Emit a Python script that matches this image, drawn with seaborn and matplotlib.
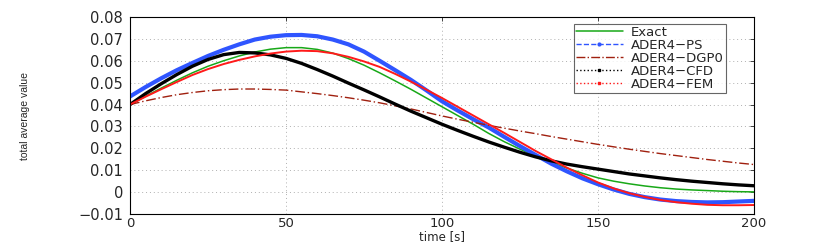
import numpy as np
import matplotlib
matplotlib.use("Agg")
import matplotlib.pyplot as plt
import seaborn as sns
from matplotlib.lines import Line2D

# values (every 5 s)
time = list(range(0, 205, 5))
exact = [0.0400, 0.0438, 0.0475, 0.0511, 0.0545, 0.0575, 0.0600, 0.0622, 0.0640, 0.0653,
         0.0660, 0.0660, 0.0652, 0.0635, 0.0610, 0.0580, 0.0545, 0.0508, 0.0470, 0.0430,
         0.0390, 0.0350, 0.0310, 0.0268, 0.0230, 0.0196, 0.0165, 0.0136, 0.0110, 0.0086,
         0.0065, 0.0050, 0.0038, 0.0028, 0.0020, 0.0014, 0.0010, 0.0007, 0.0004, 0.0002,
         0.0001]
ader_ps = [0.0437, 0.0480, 0.0520, 0.0557, 0.0590, 0.0622, 0.0650, 0.0675, 0.0697, 0.0710,
           0.0717, 0.0718, 0.0712, 0.0697, 0.0675, 0.0642, 0.0600, 0.0557, 0.0513, 0.0465,
           0.0415, 0.0373, 0.0333, 0.0295, 0.0252, 0.0210, 0.0170, 0.0130, 0.0095, 0.0063,
           0.0036, 0.0012, -0.0008, -0.0023, -0.0034, -0.0041, -0.0045, -0.0047, -0.0046, -0.0043,
           -0.0040]
ader_dgp0 = [0.0400, 0.0417, 0.0432, 0.0445, 0.0455, 0.0463, 0.0468, 0.0471, 0.0471, 0.0469,
             0.0466, 0.0458, 0.0450, 0.0441, 0.0431, 0.0420, 0.0408, 0.0394, 0.0380, 0.0364,
             0.0348, 0.0333, 0.0319, 0.0305, 0.0292, 0.0279, 0.0267, 0.0254, 0.0242, 0.0230,
             0.0218, 0.0207, 0.0196, 0.0186, 0.0176, 0.0167, 0.0158, 0.0149, 0.0141, 0.0133,
             0.0126]
ader_cfd = [0.0400, 0.0450, 0.0495, 0.0537, 0.0575, 0.0606, 0.0628, 0.0638, 0.0636, 0.0627,
            0.0611, 0.0588, 0.0560, 0.0530, 0.0498, 0.0467, 0.0435, 0.0402, 0.0370, 0.0340,
            0.0310, 0.0282, 0.0255, 0.0229, 0.0205, 0.0182, 0.0161, 0.0143, 0.0128, 0.0116,
            0.0105, 0.0094, 0.0083, 0.0074, 0.0065, 0.0057, 0.0050, 0.0044, 0.0038, 0.0033,
            0.0029]
ader_fem = [0.0400, 0.0436, 0.0470, 0.0503, 0.0535, 0.0562, 0.0585, 0.0604, 0.0620, 0.0633,
            0.0642, 0.0646, 0.0644, 0.0634, 0.0618, 0.0597, 0.0572, 0.0540, 0.0505, 0.0468,
            0.0430, 0.0390, 0.0350, 0.0310, 0.0270, 0.0229, 0.0188, 0.0150, 0.0112, 0.0077,
            0.0044, 0.0017, -0.0005, -0.0022, -0.0036, -0.0046, -0.0053, -0.0058, -0.0060, -0.0060,
            -0.0059]
labels = ["Exact", "ADER4\u2212PS", "ADER4\u2212DGP0", "ADER4\u2212CFD", "ADER4\u2212FEM"]
xticks = [0, 50, 100, 150, 200]
yticks = [-0.01, 0.0, 0.01, 0.02, 0.03, 0.04, 0.05, 0.06, 0.07, 0.08]
yticklabels = ["\u22120.01", "0", "0.01", "0.02", "0.03", "0.04", "0.05", "0.06", "0.07", "0.08"]

sns.set_style("white")
plt.rcParams['font.family'] = ['DejaVu Sans']

fig = plt.figure(figsize=(8.3, 2.42), dpi=100)
ax = fig.add_axes([130/830, 1-214/242, 624/830, 197/242])

green = "#18a818"
blue = "#2f55ff"
brown = "#a0200f"
red = "#ff1a1a"

sns.lineplot(x=time, y=exact, ax=ax, color=green, lw=1.1)
sns.lineplot(x=time, y=ader_ps, ax=ax, color=blue, lw=3.0)
sns.lineplot(x=time, y=ader_dgp0, ax=ax, color=brown, lw=1.0, linestyle=(0, (7, 2, 1, 2)))
sns.lineplot(x=time, y=ader_cfd, ax=ax, color="black", lw=2.4)
sns.lineplot(x=time, y=ader_fem, ax=ax, color=red, lw=1.4)

ax.set_xlim(0, 200)
ax.set_ylim(-0.01, 0.08)
ax.set_xticks(xticks)
ax.set_yticks(yticks)
ax.set_yticklabels(yticklabels)
ax.tick_params(direction="in", length=3, width=0.6, labelsize=10.5, top=True, right=True, pad=5)
ax.tick_params(axis="x", labelsize=9.5, pad=2)
ax.grid(True, color="#b0b0b0", linestyle=(0, (1, 3)), linewidth=0.7)
for s in ax.spines.values():
    s.set_visible(True)
    s.set_color("black")
    s.set_linewidth(0.8)

ax.set_xlabel("time [s]", fontsize=8.5)
ax.xaxis.set_label_coords(0.5, (214 - 230) / 197)
ax.set_ylabel("total average value", fontsize=7.5, family=["Liberation Sans", "DejaVu Sans"])
ax.yaxis.set_label_coords(-0.16, 0.5)

handles = [
    Line2D([], [], color=green, lw=1.1),
    Line2D([], [], color=blue, lw=1.0, linestyle="--", marker=".", markersize=4),
    Line2D([], [], color=brown, lw=1.0, linestyle="-."),
    Line2D([], [], color="black", lw=1.0, linestyle=":", marker="s", markersize=2),
    Line2D([], [], color=red, lw=1.0, linestyle=":", marker="s", markersize=2),
]
leg = ax.legend(handles, labels, loc="upper right", bbox_to_anchor=(0.955, 0.965),
                fontsize=9.5, handlelength=3.6, handletextpad=0.6, labelspacing=0.0,
                borderpad=0.15, borderaxespad=0, frameon=True, fancybox=False)
leg.get_frame().set_edgecolor("#404040")
leg.get_frame().set_linewidth(0.8)

fig.savefig("out.png", dpi=100)
